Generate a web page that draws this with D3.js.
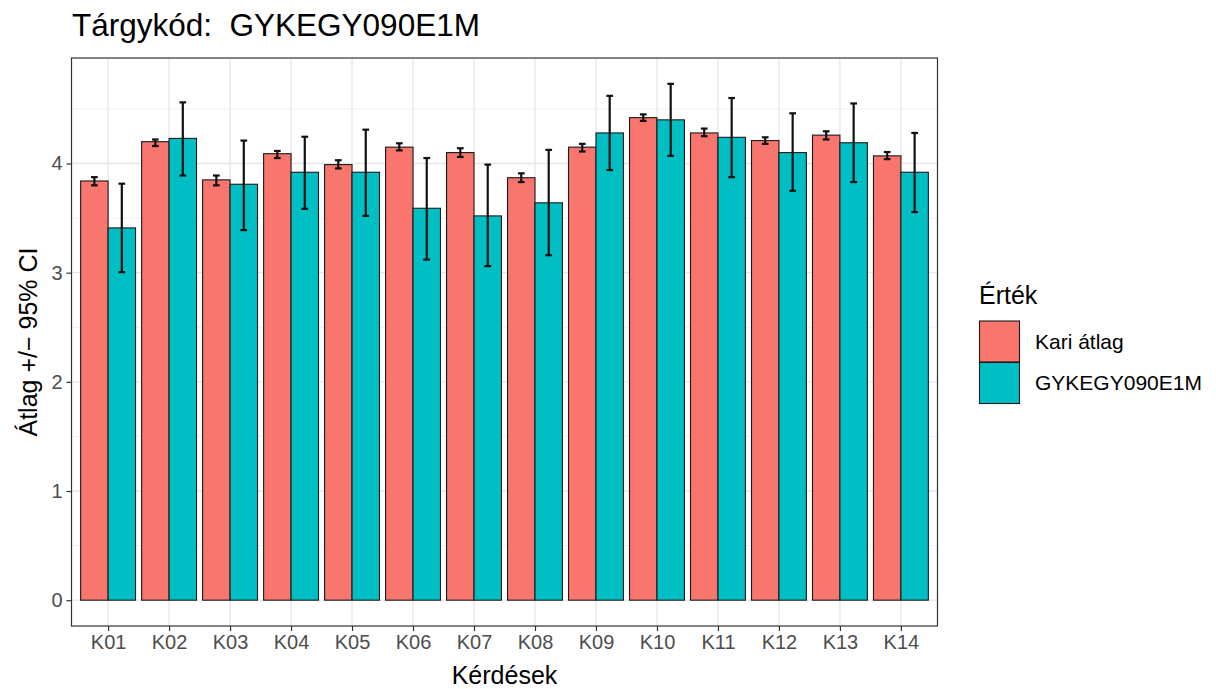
<!DOCTYPE html>
<html>
<head>
<meta charset="utf-8">
<script src="https://cdn.jsdelivr.net/npm/d3@7"></script>
<style>
  body { margin: 0; background: #fff; }
  svg { display: block; font-family: "Liberation Sans", Arial, sans-serif; }
  text { white-space: pre; }
</style>
</head>
<body>
<svg id="chart" width="1216" height="689"></svg>
<script>
const categories = ["K01","K02","K03","K04","K05","K06","K07","K08","K09","K10","K11","K12","K13","K14"];
const seriesNames = ["Kari átlag", "GYKEGY090E1M"];
const kariMean  = [3.84, 4.20, 3.85, 4.09, 3.99, 4.15, 4.10, 3.87, 4.15, 4.42, 4.28, 4.21, 4.26, 4.07];
const kariLow   = [3.80, 4.16, 3.80, 4.05, 3.955, 4.12, 4.06, 3.83, 4.11, 4.39, 4.25, 4.18, 4.22, 4.04];
const kariHigh  = [3.875, 4.22, 3.89, 4.115, 4.03, 4.185, 4.14, 3.91, 4.18, 4.45, 4.32, 4.24, 4.295, 4.105];
const gyMean    = [3.41, 4.23, 3.81, 3.92, 3.92, 3.59, 3.52, 3.64, 4.28, 4.40, 4.24, 4.10, 4.19, 3.92];
const gyLow     = [3.005, 3.89, 3.39, 3.585, 3.52, 3.12, 3.06, 3.16, 3.94, 4.07, 3.875, 3.75, 3.83, 3.555];
const gyHigh    = [3.815, 4.56, 4.21, 4.245, 4.31, 4.05, 3.99, 4.125, 4.62, 4.73, 4.60, 4.46, 4.55, 4.28];
const yTicks = [0, 1, 2, 3, 4];
const colors = ["#F8766D", "#00BFC4"];
const titleText = "Tárgykód:  GYKEGY090E1M";
const xTitle = "Kérdések";
const yTitle = "Átlag +/\u2212 95% CI";
const legendTitle = "Érték";

const rows = [];
categories.forEach((c, i) => {
  rows.push({cat: c, s: 0, mean: kariMean[i], lo: kariLow[i], hi: kariHigh[i]});
  rows.push({cat: c, s: 1, mean: gyMean[i], lo: gyLow[i], hi: gyHigh[i]});
});

const svg = d3.select("#chart");
const P = {left: 71.5, right: 937.5, top: 58, bottom: 626};

const dmax = d3.max(rows, d => d.hi);
const y = d3.scaleLinear().domain([-0.05 * dmax, dmax * 1.05]).range([P.bottom, P.top]);
const x = d3.scalePoint().domain(categories).range([P.left, P.right]).padding(0.6);
const step = x.step();
const barW = step * 0.9 / 2;
const capW = step * 0.11;

svg.append("rect").attr("x", P.left).attr("y", P.top)
  .attr("width", P.right - P.left).attr("height", P.bottom - P.top).attr("fill", "#fff");

const minor = d3.range(0.5, dmax * 1.05, 1);
svg.append("g").selectAll("line").data(minor).join("line")
  .attr("x1", P.left).attr("x2", P.right)
  .attr("y1", d => y(d)).attr("y2", d => y(d))
  .attr("stroke", "#F0F0F0").attr("stroke-width", 1);
svg.append("g").selectAll("line").data(yTicks).join("line")
  .attr("x1", P.left).attr("x2", P.right)
  .attr("y1", d => y(d)).attr("y2", d => y(d))
  .attr("stroke", "#E6E6E6").attr("stroke-width", 1.3);
svg.append("g").selectAll("line").data(categories).join("line")
  .attr("y1", P.top).attr("y2", P.bottom)
  .attr("x1", d => x(d)).attr("x2", d => x(d))
  .attr("stroke", "#E6E6E6").attr("stroke-width", 1.3);

svg.append("g").selectAll("rect").data(rows).join("rect")
  .attr("x", d => x(d.cat) - barW + d.s * barW)
  .attr("y", d => y(d.mean))
  .attr("width", barW)
  .attr("height", d => y(0) - y(d.mean))
  .attr("fill", d => colors[d.s])
  .attr("stroke", "#1a1a1a").attr("stroke-width", 1.1);

const eg = svg.append("g").attr("stroke", "#111").attr("stroke-width", 2.2).attr("fill", "none");
rows.forEach(d => {
  const cx = x(d.cat) - barW / 2 + d.s * barW;
  eg.append("line").attr("x1", cx).attr("x2", cx).attr("y1", y(d.lo)).attr("y2", y(d.hi));
  eg.append("line").attr("x1", cx - capW / 2).attr("x2", cx + capW / 2).attr("y1", y(d.lo)).attr("y2", y(d.lo));
  eg.append("line").attr("x1", cx - capW / 2).attr("x2", cx + capW / 2).attr("y1", y(d.hi)).attr("y2", y(d.hi));
});

svg.append("rect").attr("x", P.left).attr("y", P.top)
  .attr("width", P.right - P.left).attr("height", P.bottom - P.top)
  .attr("fill", "none").attr("stroke", "#333").attr("stroke-width", 1.2);

const xAxis = svg.append("g").attr("transform", `translate(0,${P.bottom})`)
  .call(d3.axisBottom(x).tickSize(5).tickPadding(4));
const yAxis = svg.append("g").attr("transform", `translate(${P.left},0)`)
  .call(d3.axisLeft(y).tickValues(yTicks).tickSize(5).tickPadding(4).tickFormat(d3.format("d")));
[xAxis, yAxis].forEach(a => {
  a.select(".domain").remove();
  a.selectAll(".tick line").attr("stroke", "#333").attr("stroke-width", 1.2);
  a.selectAll(".tick text").attr("fill", "#4D4D4D").attr("font-size", 20)
    .attr("font-family", "Liberation Sans, Arial, sans-serif");
});

svg.append("text").attr("x", 72).attr("y", 36).attr("font-size", 31.5).attr("fill", "#000")
  .attr("xml:space", "preserve").text(titleText);
svg.append("text").attr("x", (P.left + P.right) / 2).attr("y", 684).attr("text-anchor", "middle")
  .attr("font-size", 25).attr("fill", "#000").text(xTitle);
svg.append("text").attr("transform", `translate(37,${(P.top + P.bottom) / 2}) rotate(-90)`)
  .attr("text-anchor", "middle").attr("font-size", 25).attr("fill", "#000").text(yTitle);

const lg = svg.append("g").attr("transform", "translate(979,0)");
lg.append("text").attr("x", 0).attr("y", 304).attr("font-size", 25).attr("fill", "#000").text(legendTitle);
seriesNames.forEach((name, i) => {
  const ky = 321 + i * 41.5;
  lg.append("rect").attr("x", 0.5).attr("y", ky).attr("width", 40).attr("height", 41)
    .attr("fill", colors[i]).attr("stroke", "#1a1a1a").attr("stroke-width", 1.1);
  lg.append("text").attr("x", 56).attr("y", ky + 20.5).attr("dy", "0.35em")
    .attr("font-size", 21).attr("fill", "#000").text(name);
});
</script>
</body>
</html>
